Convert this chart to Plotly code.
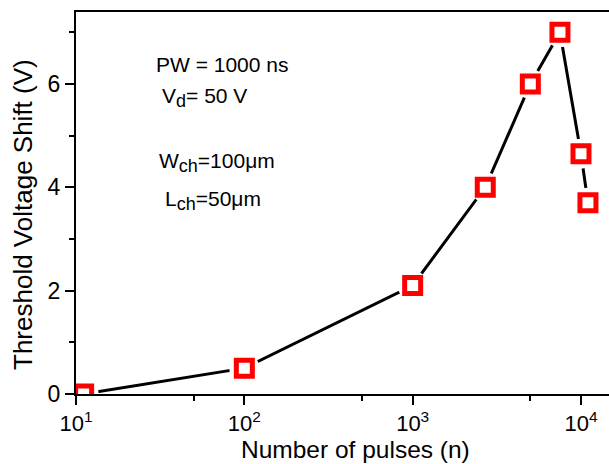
import plotly.graph_objects as go

# Data
pulses = [11.1, 100, 1000, 2700, 5000, 7500, 10000, 11000]
vth_shift = [0.0, 0.5, 2.1, 4.0, 6.0, 7.0, 4.65, 3.7]

x_tick_vals = [10, 100, 1000, 10000]
x_tick_text = ["10<sup>1</sup>", "10<sup>2</sup>", "10<sup>3</sup>", "10<sup>4</sup>"]
x_minor_vals = [50, 500, 5000]
y_tick_vals = [0, 2, 4, 6]

FONT = "Liberation Sans, Arial, Helvetica, sans-serif"

fig = go.Figure()
# connecting line
fig.add_trace(go.Scatter(x=pulses, y=vth_shift, mode="lines",
                         line=dict(color="black", width=3), hoverinfo="skip"))
# white masks creating gaps around markers
fig.add_trace(go.Scatter(x=pulses, y=vth_shift, mode="markers",
                         marker=dict(symbol="circle", size=30, color="white",
                                     line=dict(width=0)), hoverinfo="skip"))
# red open squares
fig.add_trace(go.Scatter(x=pulses, y=vth_shift, mode="markers",
                         marker=dict(symbol="square-open", size=16, color="#FF0000",
                                     line=dict(width=5, color="#FF0000"))))

L, T, W, H = 76, 12, 609, 464
B = 394
pw = W - L
ph = B - T

def px(xp):
    return (xp - L) / pw

def py(yp):
    return (B - yp) / ph

SUB = "<sub><span style='font-size:18px'>%s</span></sub>"
annots = [
    ("PW = 1000 ns", 154, 64),
    ("V" + SUB % "d" + "= 50 V", 160, 97),
    ("W" + SUB % "ch" + "=100μm", 157, 162),
    ("L" + SUB % "ch" + "=50μm", 163, 200),
]
for txt, xp, yp in annots:
    fig.add_annotation(text=txt, x=px(xp), y=py(yp), xref="paper", yref="paper",
                       xanchor="left", yanchor="middle", showarrow=False,
                       font=dict(family=FONT, size=21, color="black"))

fig.add_annotation(text="Number of pulses (n)", x=px(355.5), y=py(449),
                   xref="paper", yref="paper", xanchor="center", yanchor="middle",
                   showarrow=False, font=dict(family=FONT, size=24.5, color="black"))
fig.add_annotation(text="Threshold Voltage Shift (V)", x=px(23), y=py(215),
                   xref="paper", yref="paper", xanchor="center", yanchor="middle",
                   textangle=-90, showarrow=False,
                   font=dict(family=FONT, size=26, color="black"))

fig.update_layout(
    width=W, height=H,
    margin=dict(l=L, r=0, t=T, b=H - B, pad=0),
    paper_bgcolor="white", plot_bgcolor="white",
    showlegend=False,
    font=dict(family=FONT, size=22, color="black"),
    xaxis=dict(type="log", range=[1, 1 + pw / 168.33],
               tickmode="array", tickvals=x_tick_vals, ticktext=x_tick_text,
               ticks="outside", ticklen=9, tickwidth=2, tickcolor="black",
               showline=True, linewidth=2, linecolor="black", mirror=True,
               showgrid=False, zeroline=False,
               minor=dict(tickmode="array", tickvals=x_minor_vals, ticks="outside",
                          ticklen=5, tickwidth=2, tickcolor="black", showgrid=False),
               tickfont=dict(family=FONT, size=22)),
    yaxis=dict(range=[0, ph / 51.67], tickmode="array", tickvals=y_tick_vals,
               ticks="outside", ticklen=9, tickwidth=2, tickcolor="black",
               showline=True, linewidth=2, linecolor="black", mirror=False,
               showgrid=False, zeroline=False,
               minor=dict(dtick=1, tick0=0, ticks="outside", ticklen=5,
                          tickwidth=2, tickcolor="black", showgrid=False),
               tickfont=dict(family=FONT, size=23)),
)

fig.write_html("out.html")
